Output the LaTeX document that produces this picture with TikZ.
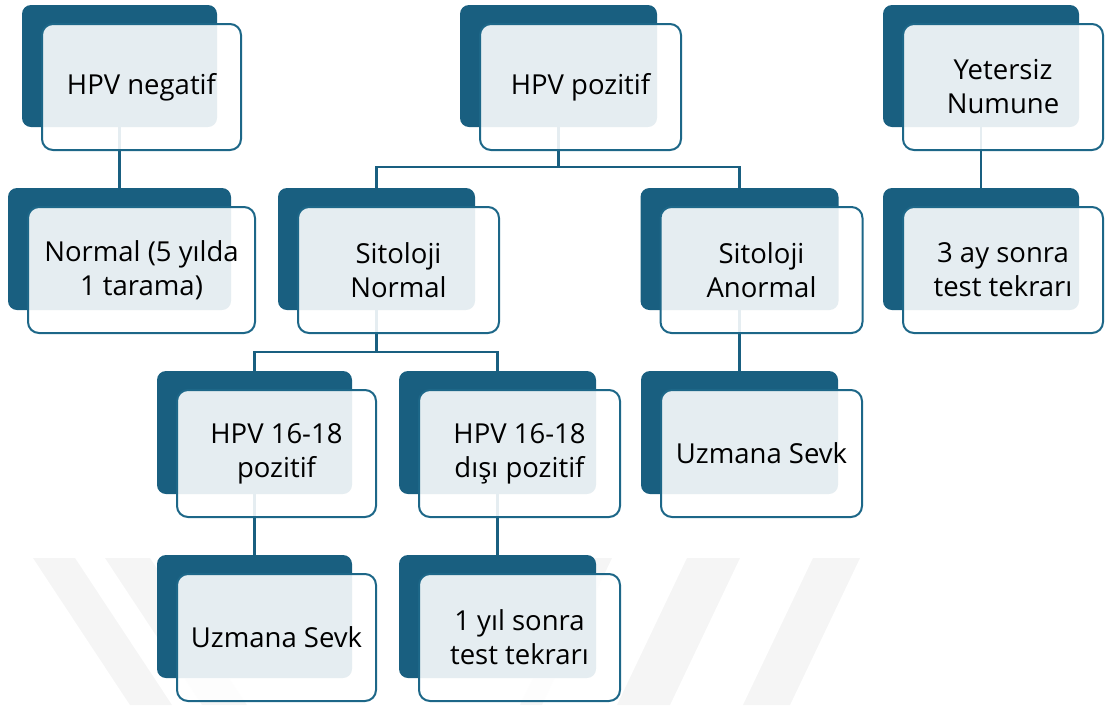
\documentclass[tikz,border=0pt]{standalone}
\usepackage{fontspec}
\setmainfont{Open Sans}
\definecolor{dk}{HTML}{195F80}
\definecolor{bd}{HTML}{1D6788}
\definecolor{wm}{HTML}{F5F5F5}
\tikzset{
  backbox/.style={fill=dk, rounded corners=9pt, inner sep=0pt},
  frontbox/.style={fill=white, fill opacity=0.89, text opacity=1, draw=bd, line width=2pt,
    rounded corners=11pt, inner sep=0pt, align=center, text=black,
    font=\fontsize{27.5}{34}\selectfont},
  conn/.style={draw=dk, line width=2.2pt},
  wmark/.style={fill=wm, draw=none}
}
\newcommand\backpair[5]{%
  \node[backbox, minimum width=#4pt, minimum height=#5pt] (#1-b) at (#2,#3) {};}
\newcommand\frontpair[6]{%
  \node[frontbox, minimum width={(#4+4)*1pt}, minimum height={(#5+4)*1pt}] (#1) at ({#2+22},{#3+21}) {#6};}
\begin{document}
\begin{tikzpicture}[x=1pt,y=-1pt]
\useasboundingbox (0,0) rectangle (1107,705);
% watermark bands
\fill[wmark] (33,558) -- (75,558) -- (172,705) -- (130,705) -- cycle;
\fill[wmark] (105,558) -- (150,558) -- (247,705) -- (202,705) -- cycle;
\fill[wmark] (590,558) -- (612,558) -- (542,705) -- (520,705) -- cycle;
\fill[wmark] (687,558) -- (740,558) -- (670,705) -- (617,705) -- cycle;
\fill[wmark] (813,558) -- (860,558) -- (790,705) -- (743,705) -- cycle;
% back boxes
\backpair{neg}{119.5}{66}{195}{122}
\backpair{norm}{119.5}{249}{223}{122}
\backpair{poz}{558.5}{66}{197}{122}
\backpair{sn}{376.5}{249}{197}{122}
\backpair{sa}{739.5}{249}{198}{122}
\backpair{yet}{981}{66}{196}{122}
\backpair{ay}{981}{249}{196}{122}
\backpair{hp}{254.5}{432.5}{195}{123}
\backpair{hd}{497.5}{432.5}{197}{123}
\backpair{uz}{739.5}{432.5}{197}{123}
\backpair{uzb}{254.5}{616.5}{195}{123}
\backpair{yil}{497.5}{616.5}{197}{123}
% connectors
\draw[conn] (neg-b.south) -- (norm-b.north);
\draw[conn] (poz-b.south) -- ++(0,40) coordinate (pj);
\draw[conn] (sn-b.north) |- (pj) -| (sa-b.north);
\draw[conn] (sn-b.south) -- ++(0,42) coordinate (sj);
\draw[conn] (hp-b.north) |- (sj) -| (hd-b.north);
\draw[conn] (sa-b.south) -- (uz-b.north);
\draw[conn] (hp-b.south) -- (uzb-b.north);
\draw[conn] (hd-b.south) -- (yil-b.north);
\draw[conn] (yet-b.south) -- (ay-b.north);
% front boxes
\frontpair{neg}{119.5}{66}{195}{122}{HPV negatif}
\frontpair{norm}{119.5}{249}{223}{122}{Normal (5 yılda\\1 tarama)}
\frontpair{poz}{558.5}{66}{197}{122}{HPV pozitif}
\frontpair{sn}{376.5}{249}{197}{122}{Sitoloji\\Normal}
\frontpair{sa}{739.5}{249}{198}{122}{Sitoloji\\Anormal}
\frontpair{yet}{981}{66}{196}{122}{Yetersiz\\Numune}
\frontpair{ay}{981}{249}{196}{122}{3 ay sonra\\test tekrarı}
\frontpair{hp}{254.5}{432.5}{195}{123}{HPV 16-18\\pozitif}
\frontpair{hd}{497.5}{432.5}{197}{123}{HPV 16-18\\dışı pozitif}
\frontpair{uz}{739.5}{432.5}{197}{123}{Uzmana Sevk}
\frontpair{uzb}{254.5}{616.5}{195}{123}{Uzmana Sevk}
\frontpair{yil}{497.5}{616.5}{197}{123}{1 yıl sonra\\test tekrarı}
\end{tikzpicture}
\end{document}
